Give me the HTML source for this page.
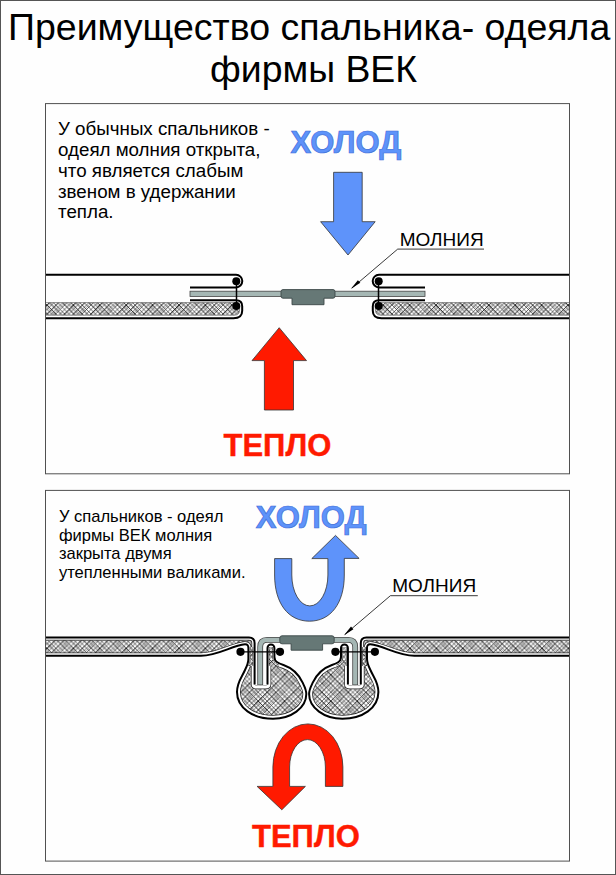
<!DOCTYPE html>
<html><head><meta charset="utf-8">
<style>
html,body{margin:0;padding:0;background:#fff;}
body{width:616px;height:875px;overflow:hidden;position:relative;font-family:"Liberation Sans",sans-serif;}
svg{position:absolute;left:0;top:0;}
text{font-family:"Liberation Sans",sans-serif;}
</style></head><body>
<svg width="616" height="875" viewBox="0 0 616 875">
<defs>
<pattern id="hatch" width="26.4" height="26.4" patternUnits="userSpaceOnUse">
<rect width="26.4" height="26.4" fill="#fff"/>
<path d="M-25.40,-1 L-53.80,27.40 M1.00,-1 L-27.40,27.40 M27.40,-1 L-1.00,27.40" stroke="#111" stroke-width="0.65" fill="none"/>
<path d="M-21.00,-1 L-49.40,27.40 M5.40,-1 L-23.00,27.40 M31.80,-1 L3.40,27.40" stroke="#111" stroke-width="0.6" fill="none"/>
<path d="M-16.60,-1 L-45.00,27.40 M9.80,-1 L-18.60,27.40 M36.20,-1 L7.80,27.40" stroke="#111" stroke-width="0.9" fill="none"/>
<path d="M-15.30,-1 L-43.70,27.40 M11.10,-1 L-17.30,27.40 M37.50,-1 L9.10,27.40" stroke="#111" stroke-width="0.45" fill="none"/>
<path d="M-12.20,-1 L-40.60,27.40 M14.20,-1 L-14.20,27.40 M40.60,-1 L12.20,27.40" stroke="#111" stroke-width="0.6" fill="none"/>
<path d="M-7.80,-1 L-36.20,27.40 M18.60,-1 L-9.80,27.40 M45.00,-1 L16.60,27.40" stroke="#111" stroke-width="0.65" fill="none"/>
<path d="M-6.70,-1 L-35.10,27.40 M19.70,-1 L-8.70,27.40 M46.10,-1 L17.70,27.40" stroke="#111" stroke-width="0.45" fill="none"/>
<path d="M-3.40,-1 L-31.80,27.40 M23.00,-1 L-5.40,27.40 M49.40,-1 L21.00,27.40" stroke="#111" stroke-width="0.6" fill="none"/>
<path d="M-1.10,-1 L-29.50,27.40 M25.30,-1 L-3.10,27.40 M51.70,-1 L23.30,27.40" stroke="#111" stroke-width="0.4" fill="none"/>
<path d="M-25.90,-1 L2.50,27.40 M0.50,-1 L28.90,27.40 M26.90,-1 L55.30,27.40" stroke="#111" stroke-width="0.6" fill="none"/>
<path d="M-21.50,-1 L6.90,27.40 M4.90,-1 L33.30,27.40 M31.30,-1 L59.70,27.40" stroke="#111" stroke-width="0.9" fill="none"/>
<path d="M-17.10,-1 L11.30,27.40 M9.30,-1 L37.70,27.40 M35.70,-1 L64.10,27.40" stroke="#111" stroke-width="0.6" fill="none"/>
<path d="M-15.90,-1 L12.50,27.40 M10.50,-1 L38.90,27.40 M36.90,-1 L65.30,27.40" stroke="#111" stroke-width="0.45" fill="none"/>
<path d="M-12.70,-1 L15.70,27.40 M13.70,-1 L42.10,27.40 M40.10,-1 L68.50,27.40" stroke="#111" stroke-width="0.65" fill="none"/>
<path d="M-8.30,-1 L20.10,27.40 M18.10,-1 L46.50,27.40 M44.50,-1 L72.90,27.40" stroke="#111" stroke-width="0.6" fill="none"/>
<path d="M-3.90,-1 L24.50,27.40 M22.50,-1 L50.90,27.40 M48.90,-1 L77.30,27.40" stroke="#111" stroke-width="0.65" fill="none"/>
<path d="M-2.70,-1 L25.70,27.40 M23.70,-1 L52.10,27.40 M50.10,-1 L78.50,27.40" stroke="#111" stroke-width="0.45" fill="none"/>
<path d="M-23.80,-1 L4.60,27.40 M2.60,-1 L31.00,27.40 M29.00,-1 L57.40,27.40" stroke="#111" stroke-width="0.4" fill="none"/>
</pattern>
<clipPath id="box1"><rect x="46" y="104" width="523" height="369"/></clipPath>
<clipPath id="box2"><rect x="46" y="491" width="523" height="369"/></clipPath>
<g id="half1">
  <!-- insulation -->
  <path d="M30,302.6 H236 Q239.6,302.6 239.6,306 V310 Q239.6,315.2 234,315.2 H30 Z" fill="url(#hatch)" stroke="#666" stroke-width="0.7"/>
  <!-- top fabric fold -->
  <path d="M30,274.8 H236 A6.3,6.3 0 0 1 236,287.4 H190" fill="none" stroke="#000" stroke-width="2"/>
  <!-- lower fold -->
  <path d="M190,300.3 H236 Q242.2,300.3 242.2,306.3 V310.8 Q242.2,318.3 233.5,318.3 H30" fill="none" stroke="#000" stroke-width="2"/>
  <line x1="236.5" y1="281" x2="236.5" y2="306" stroke="#000" stroke-width="1.5"/>
  <circle cx="236.3" cy="281.3" r="4"/>
  <circle cx="236.3" cy="306" r="4"/>
</g>

<clipPath id="up2"><rect x="0" y="600" width="616" height="66"/></clipPath>
<clipPath id="lo2"><rect x="0" y="666" width="616" height="80"/></clipPath>
<clipPath id="mid2"><rect x="246.5" y="647" width="32" height="19"/></clipPath>
<clipPath id="R2"><path id="R2p" d="M30,637.4 H249 Q254.6,637.4 254.6,643 V684.6 Q254.6,685.6 256.6,685.6 H265.5 Q267.5,685.6 267.5,684.6 V648 A3.45,3.45 0 0 1 274.4,648 V657 C274.4,662 279,663.5 283.5,665 C292,668 299,675 302.5,682.4 C304.5,686.5 306.3,689.5 306.3,694 C306.3,708 291,718.7 273,718.7 C253,718.7 237,708 237,692 C237,682 242,677 245,670 C247,666 248.4,663 248.4,659 V648 Q248.4,644.2 245,644.3 C232,645.5 218,655.7 201,655.7 H30 Z"/></clipPath>
<g id="half2">
  <use href="#R2p" fill="url(#hatch)"/>
  <g clip-path="url(#R2)">
    <g clip-path="url(#up2)">
    <use href="#R2p" fill="none" stroke="#222" stroke-width="6.2"/>
    <use href="#R2p" fill="none" stroke="#fff" stroke-width="4.8"/>
    </g>
    <g clip-path="url(#mid2)">
    <use href="#R2p" fill="url(#hatch)"/>
    <use href="#R2p" fill="none" stroke="#222" stroke-width="3.8"/>
    <use href="#R2p" fill="none" stroke="#fff" stroke-width="2.8"/>
    </g>
    <g clip-path="url(#lo2)">
    <use href="#R2p" fill="none" stroke="#222" stroke-width="7.4"/>
    <use href="#R2p" fill="none" stroke="#fff" stroke-width="6"/>
    </g>
  </g>
  <!-- tape -->
  <path d="M282,639.9 H267.2 Q260.2,639.9 260.2,647 V685" fill="none" stroke="#444" stroke-width="5.8"/>
  <path d="M282,639.9 H267.2 Q260.2,639.9 260.2,647 V684.6" fill="none" stroke="#a5b7b4" stroke-width="4.2"/>
  <!-- fabric lines -->
  <path d="M30,637.4 H249 Q254.6,637.4 254.6,643 V684.6" fill="none" stroke="#000" stroke-width="2"/>
  <path d="M267.5,684.6 V648 A3.45,3.45 0 0 1 274.4,648 V657 C274.4,662 279,663.5 283.5,665 C292,668 299,675 302.5,682.4 C304.5,686.5 306.3,689.5 306.3,694 C306.3,708 291,718.7 273,718.7 C253,718.7 237,708 237,692 C237,682 242,677 245,670 C247,666 248.4,663 248.4,659 V648 Q248.4,644.2 245,644.3 C232,645.5 218,655.7 201,655.7 H30" fill="none" stroke="#000" stroke-width="2"/>
  <line x1="240.5" y1="651.8" x2="280" y2="651.8" stroke="#000" stroke-width="1.3"/>
  <circle cx="240.5" cy="651.8" r="4.1"/>
  <circle cx="280" cy="651.8" r="4.1"/>
</g>
</defs>

<rect x="0.5" y="0.5" width="615" height="874" fill="#fefefe" stroke="#555" stroke-width="1"/>
<text id="t1" x="8" y="39.8" font-size="37.5" fill="#000">Преимущество спальника- одеяла</text>
<text id="t2" x="210" y="81.7" font-size="37.4" fill="#000">фирмы ВЕК</text>
<rect x="45.5" y="103.6" width="524" height="370.2" fill="none" stroke="#505050" stroke-width="1"/>
<rect x="45.5" y="490.4" width="524" height="370.7" fill="none" stroke="#505050" stroke-width="1"/>

<!-- ===== Diagram 1 ===== -->
<g font-size="18.75" fill="#000">
<text id="p1" x="58" y="135.3">У обычных спальников -</text>
<text x="58" y="156.2">одеял молния открыта,</text>
<text x="58" y="176.9">что является слабым</text>
<text x="58" y="197.6">звеном в удержании</text>
<text x="58" y="218.3">тепла.</text>
</g>
<text id="h1" x="290.5" y="153.3" font-size="31" font-weight="bold" fill="#5e93fa" stroke="#3f6fd8" stroke-width="0.7">ХОЛОД</text>
<path d="M333.6,172.3 H362.2 V221.7 H375.2 L348,255 L320.6,221.7 H333.6 Z" fill="#5e93fa" stroke="#333" stroke-width="0.8"/>
<path d="M279.2,327.7 L306.5,360.6 H293.5 V410 H264.4 V360.6 H252 Z" fill="#ff1a00" stroke="#333" stroke-width="0.8"/>
<text id="w1" x="223.5" y="456.3" font-size="31" font-weight="bold" fill="#ff1a00" stroke="#ff1a00" stroke-width="0.4">ТЕПЛО</text>
<text id="m1" x="399.7" y="245.9" font-size="19" fill="#000">МОЛНИЯ</text>
<path d="M484,249.1 H397.7 L352,288" fill="none" stroke="#222" stroke-width="0.9"/>
<path d="M350.7,289 L360.3,282.8 L357.9,280.2 Z" fill="#000"/>

<g clip-path="url(#box1)">
  <rect x="190" y="291.2" width="235" height="5.2" fill="#a5b7b4" stroke="#444" stroke-width="0.8"/>
  <use href="#half1"/>
  <use href="#half1" transform="translate(615,0) scale(-1,1)"/>
  <path d="M283,289.6 H333 Q335,289.6 335,291.6 V296.2 Q335,298.2 333,298.2 H324 V304.7 H292 V298.2 H283 Q281,298.2 281,296.2 V291.6 Q281,289.6 283,289.6 Z" fill="#667876" stroke="#3c4848" stroke-width="0.9"/>
</g>

<!-- ===== Diagram 2 ===== -->
<g font-size="16.55" fill="#000">
<text id="p2" x="58.9" y="521.9">У спальников - одеял</text>
<text x="58.9" y="540.6">фирмы ВЕК молния</text>
<text x="58.9" y="559.3">закрыта двумя</text>
<text id="p24" x="58.9" y="577.8">утепленными валиками.</text>
</g>
<text id="h2" x="255.8" y="527.8" font-size="31" font-weight="bold" fill="#5e93fa" stroke="#3f6fd8" stroke-width="0.7">ХОЛОД</text>
<text id="w2" x="252" y="847.4" font-size="31" font-weight="bold" fill="#ff1a00" stroke="#ff1a00" stroke-width="0.4">ТЕПЛО</text>
<text id="m2" x="392.2" y="592" font-size="19" fill="#000">МОЛНИЯ</text>
<path d="M477.8,595.7 H390.4 L345,634.4" fill="none" stroke="#222" stroke-width="0.9"/>
<path d="M343.8,635.4 L353.4,629.2 L351,626.6 Z" fill="#000"/>

<g clip-path="url(#box2)">
  <use href="#half2"/>
  <use href="#half2" transform="translate(615.4,0) scale(-1,1)"/>
  <path d="M282,635.8 H332 Q334.2,635.8 334.2,638 V641.6 Q334.2,643.8 332,643.8 H322.6 V650.2 H291.1 V643.8 H282 Q279.8,643.8 279.8,641.6 V638 Q279.8,635.8 282,635.8 Z" fill="#667876" stroke="#3c4848" stroke-width="0.9"/>
</g>
<!-- blue U arrow -->
<path d="M274.6,558.6 H291.8 V575 A18.05,30.9 0 0 0 327.9,575 V558.6 H311.8 L335.5,535.4 L359.1,558.4 H344.3 V575 C344.3,603.2 330.7,621.2 309.45,621.2 C288.2,621.2 274.6,603.2 274.6,575 Z" fill="#5e93fa" stroke="#333" stroke-width="0.8"/>
<!-- red U arrow -->
<path d="M342.9,786.4 H325.4 V767 A17.9,27.4 0 0 0 289.6,767 V786.4 H305.4 L281.8,809.8 L257.1,786.4 H272.9 V767 A35,43.1 0 0 1 342.9,767 Z" fill="#ff1a00" stroke="#333" stroke-width="0.8"/>
</svg>
</body></html>
